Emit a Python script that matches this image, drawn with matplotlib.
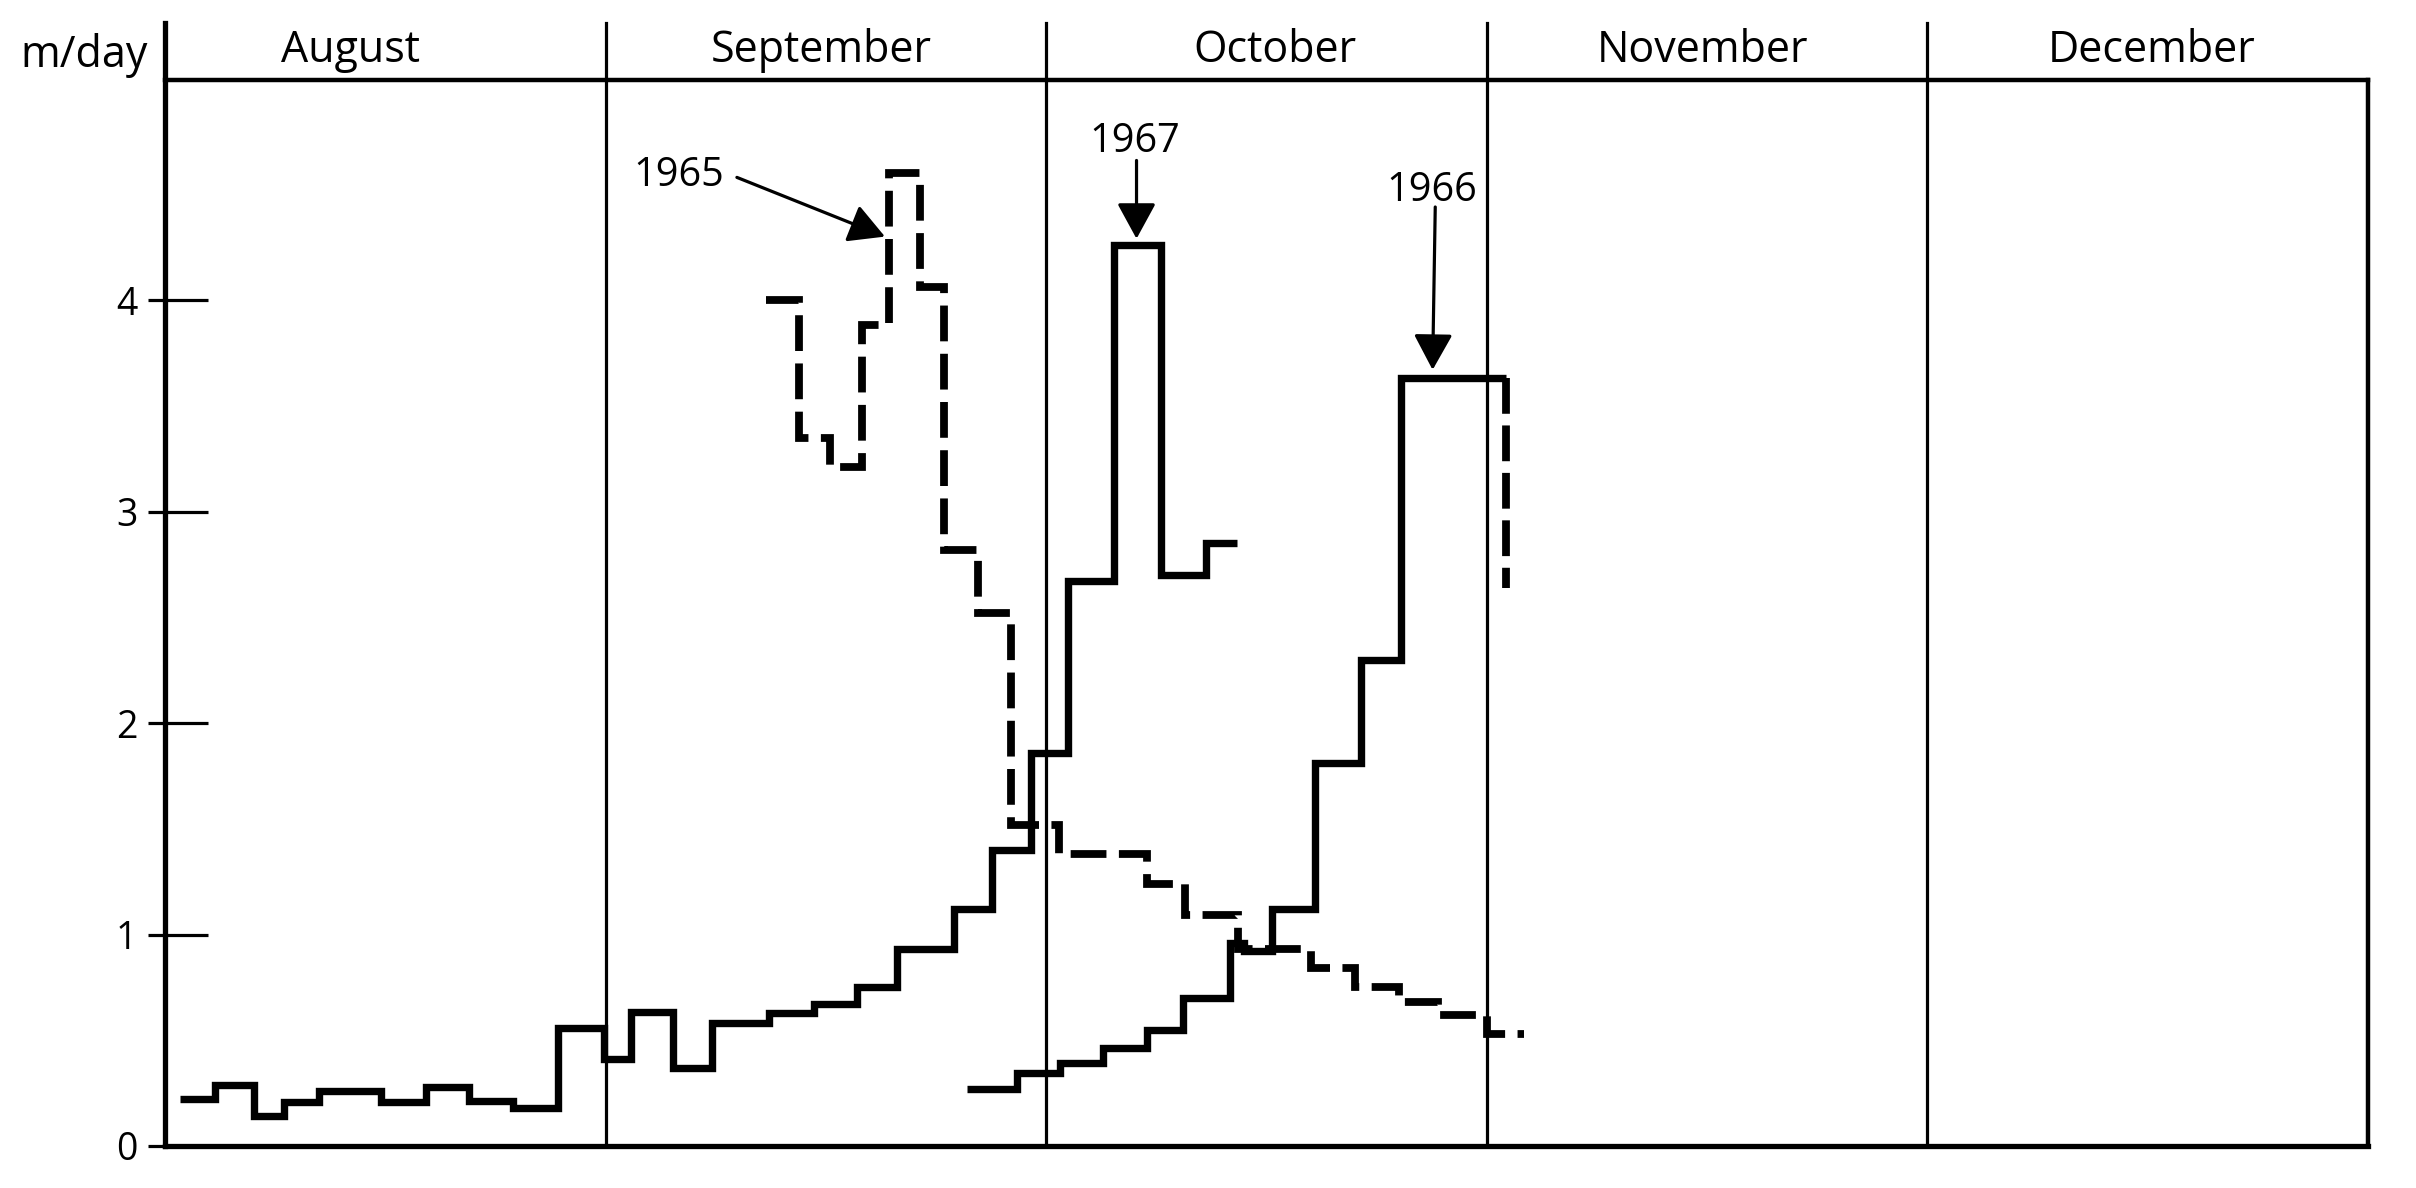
import matplotlib
matplotlib.use("Agg")
import matplotlib.pyplot as plt

plt.rcParams['font.family'] = ['Open Sans', 'DejaVu Sans']

# ---- data (x in month units: 0 = 1 August, 1 = 1 September, ...) ----
months = ["August", "September", "October", "November", "December"]
yticks = [0, 1, 2, 3, 4]

# 1967 (solid, starts in August)
edges_1967 = [0.035, 0.114, 0.203, 0.27, 0.35, 0.49, 0.593, 0.69, 0.79, 0.893,
              0.996, 1.057, 1.152, 1.241, 1.371, 1.472, 1.57, 1.662, 1.79, 1.878,
              1.965, 2.05, 2.155, 2.26, 2.362, 2.434]
vals_1967 = [0.22, 0.29, 0.14, 0.21, 0.26, 0.21, 0.28, 0.215, 0.18, 0.56,
             0.41, 0.635, 0.37, 0.58, 0.63, 0.67, 0.75, 0.93, 1.12, 1.40,
             1.86, 2.67, 4.26, 2.70, 2.85]

# 1966 (solid, starts late September)
edges_1966 = [1.82, 1.933, 2.032, 2.13, 2.229, 2.311, 2.418, 2.45, 2.513, 2.61,
              2.715, 2.806, 3.043]
vals_1966 = [0.27, 0.345, 0.392, 0.463, 0.548, 0.70, 0.96, 0.92, 1.12, 1.81,
             2.30, 3.63]
tail_1966_x = [3.043, 3.043]
tail_1966_y = [3.63, 2.64]

# 1965 (dashed)
edges_1965 = [1.365, 1.44, 1.51, 1.583, 1.644, 1.714, 1.767, 1.845, 1.92, 2.03,
              2.228, 2.316, 2.436, 2.60, 2.70, 2.80, 2.89, 3.00, 3.085]
vals_1965 = [4.0, 3.35, 3.21, 3.88, 4.60, 4.06, 2.82, 2.52, 1.52, 1.38,
             1.24, 1.09, 0.93, 0.84, 0.75, 0.68, 0.62, 0.53]

# annotations: label, text position, arrow start, arrow tip
ann_labels = ["1965", "1967", "1966"]
ann_text_xy = [(1.165, 4.54), (2.20, 4.70), (2.876, 4.47)]
ann_arrow_from = [(1.298, 4.58), (2.205, 4.66), (2.883, 4.44)]
ann_arrow_to = [(1.634, 4.30), (2.205, 4.29), (2.877, 3.67)]

# ---- layout ----
W, H = 2416, 1188
fig = plt.figure(figsize=(W / 100, H / 100), dpi=100)
fig.patch.set_facecolor('white')
x0, x1, ybot, ytop = 165, 2368, 1146, 23
ax = fig.add_axes([x0 / W, (H - ybot) / H, (x1 - x0) / W, (ybot - ytop) / H])
YTOP = 5.31
FRAME_TOP = 5.04
ax.set_xlim(0, 5)
ax.set_ylim(0, YTOP)

for s in ['top', 'right']:
    ax.spines[s].set_visible(False)
ax.spines['left'].set_linewidth(3.8)
ax.spines['bottom'].set_linewidth(3.8)

# frame: top line and right edge
ax.plot([0, 5], [FRAME_TOP, FRAME_TOP], color='k', lw=3.2, clip_on=False,
        solid_capstyle='projecting')
ax.plot([5, 5], [0, FRAME_TOP], color='k', lw=3.2, clip_on=False,
        solid_capstyle='projecting')
# month dividers
for i in range(1, 5):
    ax.plot([i, i], [0, YTOP], color='k', lw=2.3, clip_on=False)

# month labels
label_nudge = [-0.08, -0.01, 0.02, -0.01, 0.01]
for i, m in enumerate(months):
    ax.text(i + 0.5 + label_nudge[i], 5.127, m, ha='center', va='baseline',
            fontsize=31)
ax.text(-0.184, 5.103, "m/day", ha='center', va='baseline', fontsize=31,
        clip_on=False)

# y ticks: inward major (with labels) + outward minor at same spots
ax.set_xticks([])
ax.set_yticks(yticks)
ax.set_yticklabels([str(t) for t in yticks])
ax.yaxis.remove_overlapping_locs = False
ax.set_yticks(yticks, minor=True)
ax.tick_params(axis='y', which='major', direction='in', length=31, width=2.3,
               pad=20, labelsize=27)
ax.tick_params(axis='y', which='minor', direction='out', length=12, width=2.3)

# ---- series ----
ax.stairs(vals_1967, edges_1967, baseline=None, fill=False, edgecolor='k',
          lw=5.3, joinstyle='miter', capstyle='butt', zorder=3)
ax.stairs(vals_1966, edges_1966, baseline=None, fill=False, edgecolor='k',
          lw=5.3, joinstyle='miter', capstyle='butt', zorder=3)
ax.plot(tail_1966_x, tail_1966_y, color='k', lw=5.6,
        linestyle=(0, (4.6, 1.5)), dash_capstyle='butt', zorder=3)
ax.stairs(vals_1965, edges_1965, baseline=None, fill=False, edgecolor='k',
          lw=5.6, linestyle=(0, (4.6, 1.6)), joinstyle='miter', capstyle='butt',
          zorder=3)

# ---- annotations ----
for lab, txy, a0, a1 in zip(ann_labels, ann_text_xy, ann_arrow_from, ann_arrow_to):
    ax.text(txy[0], txy[1], lab, ha='center', va='baseline', fontsize=28.5)
    ax.annotate('', xy=a1, xytext=a0,
                arrowprops=dict(arrowstyle='-|>,head_length=1.1,head_width=0.6',
                                mutation_scale=20, lw=2.3, color='k',
                                shrinkA=0, shrinkB=0))

fig.savefig("out.png", dpi=100, facecolor='white')
